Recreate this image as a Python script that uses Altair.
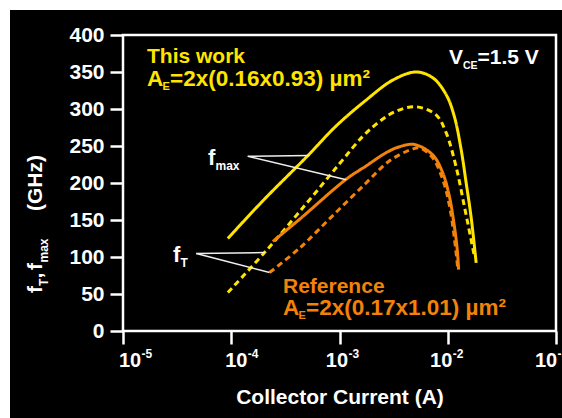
import altair as alt
import pandas as pd

# ---------------- data ----------------
XTICKS = [1e-5, 1e-4, 1e-3, 1e-2, 1e-1]
XEXP = ["-5", "-4", "-3", "-2", "-1"]
YTICKS = [0, 50, 100, 150, 200, 250, 300, 350, 400]

# This work, f_max (solid yellow)
I_FMAX_TW = [9.3e-5, 1.96e-4, 5.1e-4, 9.3e-4, 1.76e-3, 3.1e-3, 5.1e-3, 7.3e-3,
             9.7e-3, 1.15e-2, 1.33e-2, 1.48e-2, 1.64e-2, 1.83e-2]
F_FMAX_TW = [125, 176, 237, 277, 312, 339, 350, 342, 319, 290, 245, 200, 155, 92]

# This work, f_T (dashed yellow)
I_FT_TW = [9.3e-5, 2.03e-4, 4.93e-4, 1.0e-3, 1.64e-3, 2.34e-3, 3.33e-3, 5.1e-3,
           7.8e-3, 9.66e-3, 1.194e-2, 1.426e-2, 1.64e-2, 1.75e-2]
F_FT_TW = [52, 106, 172, 226, 263, 283, 297, 303, 292, 268, 222, 168, 124, 103]

# Reference, f_max (solid orange)
I_FMAX_REF = [2.42e-4, 4.28e-4, 1.15e-3, 1.76e-3, 2.70e-3, 3.58e-3, 4.92e-3,
              7.26e-3, 8.97e-3, 1.035e-2, 1.15e-2, 1.22e-2, 1.26e-2]
F_FMAX_REF = [121, 151, 205, 223, 241, 249, 252, 238, 214, 182, 142, 112, 83]

# Reference, f_T (dashed orange)
I_FT_REF = [2.26e-4, 4.28e-4, 8.67e-4, 1.76e-3, 2.90e-3, 4.75e-3, 5.6e-3,
            7.26e-3, 8.97e-3, 1.035e-2, 1.15e-2, 1.24e-2]
F_FT_REF = [79, 112, 156, 200, 230, 246, 247, 234, 205, 170, 126, 83]

SERIES = ["fmax_tw", "ft_tw", "fmax_ref", "ft_ref"]

# annotation pointer lines (label point -> curve point)
RULE_I = [1.42e-4, 1.42e-4, 4.75e-5, 4.75e-5]
RULE_F = [236, 236, 104.8, 104.8]
RULE_I2 = [5.28e-4, 1.153e-3, 2.03e-4, 2.26e-4]
RULE_F2 = [237.3, 204.5, 106, 79]

# ---------------- styling / layout ----------------
FONT = "Liberation Sans"
YEL = "#FFE400"
ORG = "#F2820A"
WHITE = "#FFFFFF"
PL, PT = 123, 35
W, H = 433, 296
PR = 562 - PL - W
PB = 418 - PT - H
XLABEL_DX = [7, 5, -2.6, -6.6, -10]

rows = []
for name, xs, ys in [("fmax_tw", I_FMAX_TW, F_FMAX_TW), ("ft_tw", I_FT_TW, F_FT_TW),
                     ("fmax_ref", I_FMAX_REF, F_FMAX_REF), ("ft_ref", I_FT_REF, F_FT_REF)]:
    for a, b in zip(xs, ys):
        rows.append({"series": name, "I": a, "f": b})
curves = pd.DataFrame(rows)
rules = pd.DataFrame({"I": RULE_I, "f": RULE_F, "I2": RULE_I2, "f2": RULE_F2})
ONE = pd.DataFrame({"k": [0]})

XENC = alt.X("I:Q", scale=alt.Scale(type="log", domain=[1e-5, 1e-1], nice=False),
             axis=alt.Axis(values=XTICKS, labels=False, title=None, domain=False, grid=False,
                           tickColor=WHITE, tickWidth=2.5, tickSize=13, zindex=1))
YENC = alt.Y("f:Q", scale=alt.Scale(domain=[0, 400], nice=False),
             axis=alt.Axis(values=YTICKS, title=None, domain=False, grid=False,
                           tickColor=WHITE, tickWidth=2.5, tickSize=13,
                           labelColor=WHITE, labelFont=FONT, labelFontSize=21,
                           labelFontWeight="bold", labelPadding=6, zindex=1))


def txt(s, x, y, size, color, angle=None, align="left"):
    kw = dict(text=s, font=FONT, fontSize=size, fontWeight="bold", color=color,
              align=align, baseline="alphabetic")
    if angle is not None:
        kw["angle"] = angle
    return alt.Chart(ONE).mark_text(**kw).encode(x=alt.value(x - PL), y=alt.value(y - PT))


bg = alt.Chart(ONE).mark_rect(color="black").encode(
    x=alt.value(10 - PL), x2=alt.value(562 - PL), y=alt.value(10 - PT), y2=alt.value(418 - PT))
frame = alt.Chart(ONE).mark_rect(fillOpacity=0, stroke=WHITE, strokeWidth=2.5).encode(
    x=alt.value(0), x2=alt.value(W), y=alt.value(0), y2=alt.value(H))

lines = alt.Chart(curves).mark_line(interpolate="catmull-rom", strokeWidth=3).encode(
    x=XENC, y=YENC,
    color=alt.Color("series:N", scale=alt.Scale(domain=SERIES, range=[YEL, YEL, ORG, ORG]), legend=None),
    strokeDash=alt.StrokeDash("series:N", scale=alt.Scale(domain=SERIES,
                              range=[[1, 0], [6, 4], [1, 0], [6, 4]]), legend=None),
)

ptr = alt.Chart(rules).mark_rule(color="#EEEEEE", strokeWidth=1.5).encode(
    x=XENC, y=YENC, x2="I2:Q", y2="f2:Q")

layers = [bg, frame, lines, ptr]

# x tick labels 10^n
for v, e, d in zip(XTICKS, XEXP, XLABEL_DX):
    dfl = pd.DataFrame({"I": [v], "e": [e]})
    layers.append(alt.Chart(dfl).mark_text(text="10", dx=d, align="center", baseline="alphabetic",
                                           font=FONT, fontSize=20, fontWeight="bold", color=WHITE)
                  .encode(x=XENC, y=alt.value(366.7 - PT)))
    layers.append(alt.Chart(dfl).mark_text(dx=d + 11.5, align="left", baseline="alphabetic",
                                           font=FONT, fontSize=12, fontWeight="bold", color=WHITE)
                  .encode(x=XENC, y=alt.value(357.5 - PT), text="e:N"))

# axis titles
layers.append(txt("Collector Current (A)", 340, 404, 21, WHITE, align="center"))
yt = [("f", 42, 293, 21), ("T", 47.5, 286, 12), (",", 42, 278.5, 21), ("f", 42, 270, 21),
      ("max", 47.5, 262.5, 12), ("(GHz)", 42, 211, 21)]
for s, x, y, sz in yt:
    layers.append(txt(s, x, y, sz, WHITE, angle=270))

# annotations
layers += [
    txt("This work", 147, 63, 21, YEL),
    txt("A", 147, 86, 22.5, YEL), txt("E", 162.5, 90, 11, YEL),
    txt("=2x(0.16x0.93) µm²", 170, 86, 22.5, YEL),
    txt("Reference", 283, 293, 21, ORG),
    txt("A", 283, 315, 22.5, ORG), txt("E", 298.5, 319, 11, ORG),
    txt("=2x(0.17x1.01) µm²", 306, 315, 22.5, ORG),
    txt("V", 449, 64, 21, WHITE), txt("CE", 463, 69, 10.5, WHITE),
    txt("=1.5 V", 477.5, 64, 21, WHITE),
    txt("f", 208, 165, 22, WHITE), txt("max", 215.5, 170, 12, WHITE),
    txt("f", 173, 262, 22, WHITE), txt("T", 180.5, 267, 12, WHITE),
]

chart = alt.layer(*layers).properties(
    width=W, height=H,
    padding={"left": PL, "top": PT, "right": PR, "bottom": PB},
    autosize=alt.AutoSizeParams(type="none"),
    background="white",
).configure_view(stroke="transparent")

chart.save("out.html", embed_options={"renderer": "svg", "actions": False})
